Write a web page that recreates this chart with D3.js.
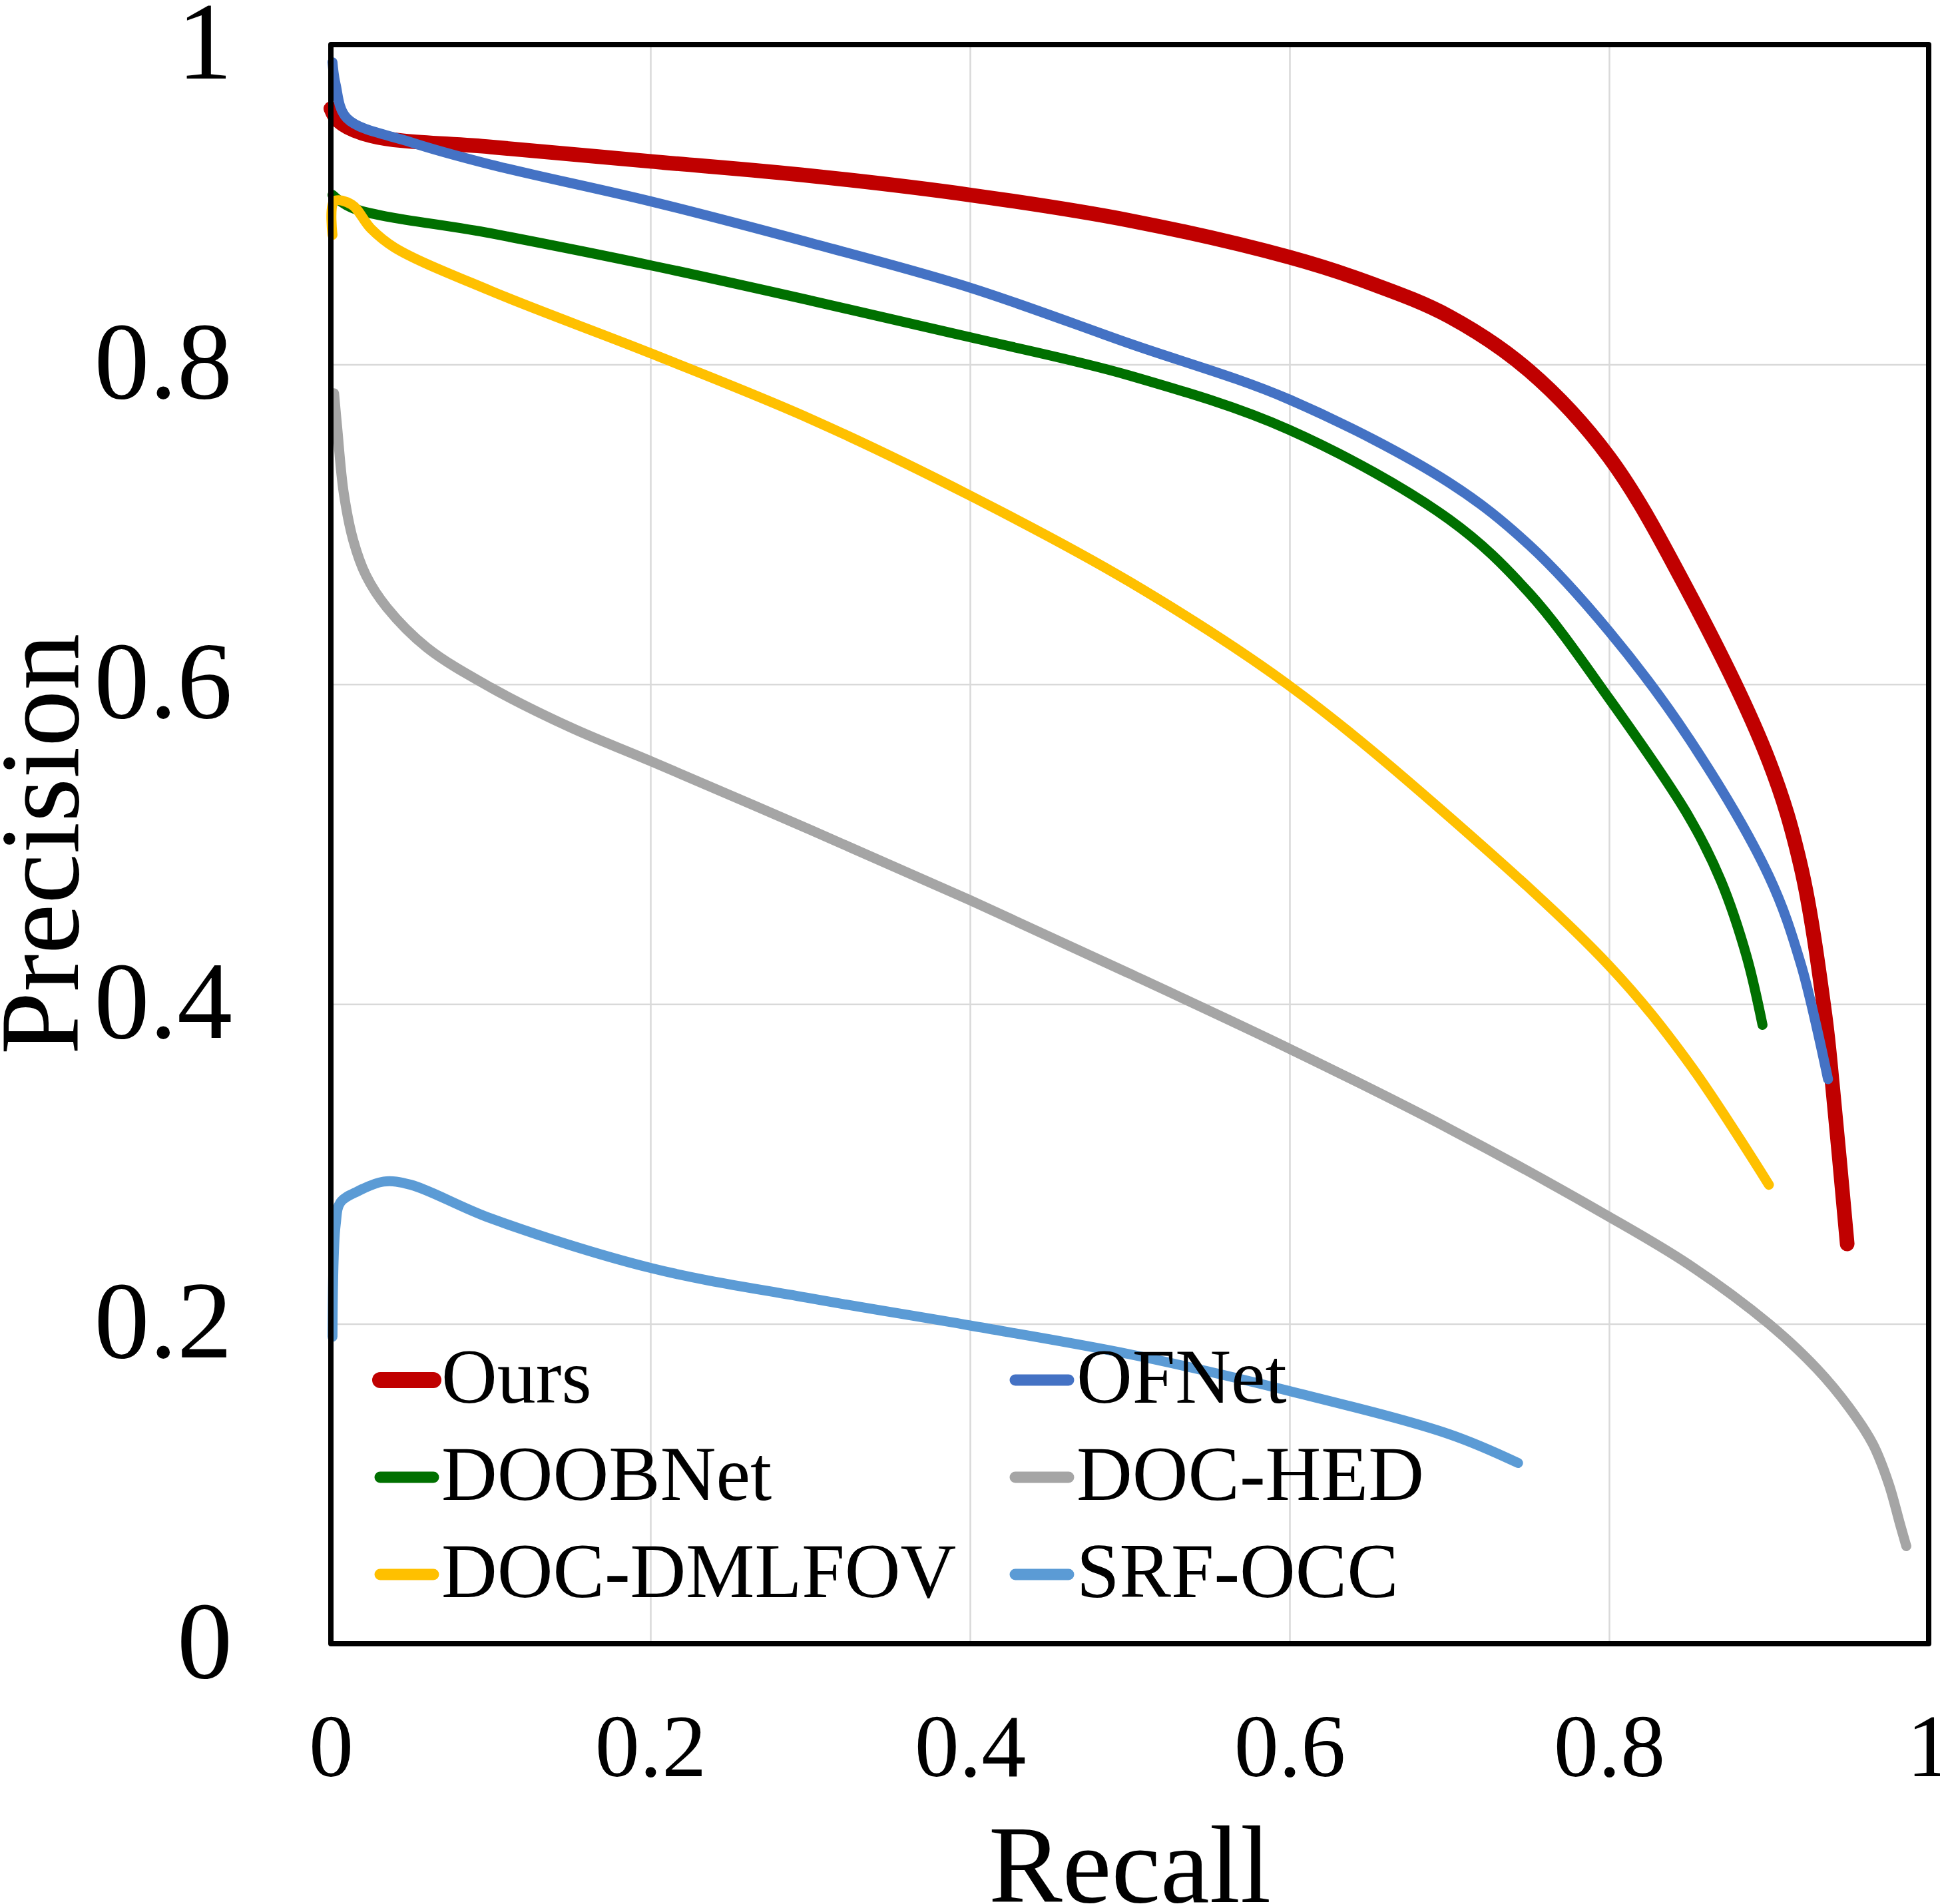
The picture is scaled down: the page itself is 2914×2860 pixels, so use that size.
<!DOCTYPE html>
<html>
<head>
<meta charset="utf-8">
<script src="https://cdn.jsdelivr.net/npm/d3@7"></script>
<style>
  body { margin: 0; background: #fff; }
  text { font-family: "Liberation Serif", "Times New Roman", serif; fill: #000; }
</style>
</head>
<body>
<div id="chart"></div>
<script>
// series names and colours
const seriesNames = ["Ours", "OFNet", "DOOBNet", "DOC-HED", "DOC-DMLFOV", "SRF-OCC"];
const seriesColors = ["#C00000", "#4472C4", "#007000", "#A5A5A5", "#FFC000", "#5B9BD5"];

// recall / precision points
const oursR = [0, 0.005, 0.025, 0.1, 0.2, 0.3, 0.4, 0.5, 0.6, 0.65, 0.7, 0.75, 0.8, 0.85, 0.9, 0.92, 0.935, 0.94, 0.949];
const oursP = [0.96, 0.952, 0.943, 0.936, 0.927, 0.918, 0.906, 0.890, 0.867, 0.851, 0.830, 0.796, 0.742, 0.657, 0.552, 0.486, 0.394, 0.347, 0.25];

const ofnetR = [0.001, 0.003, 0.01, 0.05, 0.1, 0.2, 0.3, 0.4, 0.5, 0.6, 0.7, 0.75, 0.8, 0.85, 0.9, 0.92, 0.937];
const ofnetP = [0.989, 0.975, 0.954, 0.939, 0.925, 0.902, 0.876, 0.848, 0.813, 0.778, 0.726, 0.687, 0.633, 0.566, 0.480, 0.425, 0.353];

const doobR = [0.001, 0.013, 0.1, 0.2, 0.3, 0.4, 0.5, 0.6, 0.7, 0.75, 0.8, 0.85, 0.87, 0.886, 0.896];
const doobP = [0.906, 0.898, 0.882, 0.862, 0.840, 0.817, 0.793, 0.759, 0.703, 0.657, 0.591, 0.517, 0.477, 0.430, 0.387];

const hedR = [0.002, 0.004, 0.008, 0.014, 0.022, 0.035, 0.06, 0.1, 0.15, 0.2, 0.3, 0.4, 0.5, 0.6, 0.7, 0.8, 0.85, 0.9, 0.93, 0.95, 0.965, 0.975, 0.982, 0.986];
const hedP = [0.782, 0.760, 0.720, 0.690, 0.668, 0.648, 0.623, 0.598, 0.573, 0.552, 0.509, 0.465, 0.419, 0.372, 0.322, 0.267, 0.237, 0.200, 0.172, 0.148, 0.125, 0.100, 0.075, 0.061];

const dmlR = [0.001, 0.002, 0.013, 0.025, 0.04, 0.1, 0.2, 0.3, 0.4, 0.5, 0.6, 0.7, 0.8, 0.85, 0.9];
const dmlP = [0.881, 0.902, 0.900, 0.885, 0.873, 0.846, 0.807, 0.766, 0.718, 0.664, 0.599, 0.517, 0.424, 0.363, 0.287];

const srfR = [0.001, 0.003, 0.006, 0.017, 0.033, 0.05, 0.1, 0.2, 0.3, 0.4, 0.5, 0.6, 0.7, 0.743];
const srfP = [0.192, 0.262, 0.276, 0.283, 0.289, 0.287, 0.266, 0.235, 0.216, 0.199, 0.181, 0.158, 0.131, 0.113];

const tickValues = [0, 0.2, 0.4, 0.6, 0.8, 1];
const tickLabels = ["0", "0.2", "0.4", "0.6", "0.8", "1"];

const series = [
  { name: "Ours", r: oursR, p: oursP, w: 22 },
  { name: "OFNet", r: ofnetR, p: ofnetP, w: 15 },
  { name: "DOOBNet", r: doobR, p: doobP, w: 15 },
  { name: "DOC-HED", r: hedR, p: hedP, w: 15 },
  { name: "DOC-DMLFOV", r: dmlR, p: dmlP, w: 15 },
  { name: "SRF-OCC", r: srfR, p: srfP, w: 15 }
];

const margin = { top: 67, right: 17, bottom: 391, left: 497 };
const width = 2400;
const height = 2402;

const svg = d3.select("#chart")
  .append("svg")
  .attr("width", 2914)
  .attr("height", 2860);

const g = svg.append("g")
  .attr("transform", `translate(${margin.left},${margin.top})`);

const x = d3.scaleLinear().domain([0, 1]).range([0, width]);
const y = d3.scaleLinear().domain([0, 1]).range([height, 0]);

const color = d3.scaleOrdinal().domain(seriesNames).range(seriesColors);

// gridlines
g.append("g")
  .attr("class", "grid-x")
  .attr("transform", `translate(0,${height})`)
  .call(d3.axisBottom(x).tickValues(tickValues.slice(1, -1)).tickSize(-height).tickFormat(""))
  .call(a => a.select(".domain").remove())
  .selectAll("line").attr("stroke", "#d9d9d9").attr("stroke-width", 2.5);

g.append("g")
  .attr("class", "grid-y")
  .call(d3.axisLeft(y).tickValues(tickValues.slice(1, -1)).tickSize(-width).tickFormat(""))
  .call(a => a.select(".domain").remove())
  .selectAll("line").attr("stroke", "#d9d9d9").attr("stroke-width", 2.5);

// x tick labels
const xAxis = g.append("g")
  .attr("transform", `translate(0,${height})`)
  .call(d3.axisBottom(x).tickValues(tickValues).tickSize(0).tickFormat((d, i) => tickLabels[i]));
xAxis.select(".domain").remove();
xAxis.selectAll("text")
  .attr("y", 199)
  .attr("dy", 0)
  .style("font-size", "134px")
  .style("font-family", '"Liberation Serif", "Times New Roman", serif')
  .attr("fill", "#000");

// y tick labels
const yAxis = g.append("g")
  .call(d3.axisLeft(y).tickValues(tickValues).tickSize(0).tickFormat((d, i) => tickLabels[i]));
yAxis.select(".domain").remove();
yAxis.selectAll("text")
  .attr("x", -148)
  .attr("dy", 50)
  .style("font-size", "166px")
  .style("font-family", '"Liberation Serif", "Times New Roman", serif')
  .attr("fill", "#000");

// curves
const line = d3.line()
  .x(d => x(d[0]))
  .y(d => y(d[1]))
  .curve(d3.curveCatmullRom.alpha(0.5));

series.forEach(s => {
  const pts = s.r.map((v, i) => [v, s.p[i]]);
  g.append("path")
    .datum(pts)
    .attr("fill", "none")
    .attr("stroke", color(s.name))
    .attr("stroke-width", s.w)
    .attr("stroke-linecap", "round")
    .attr("stroke-linejoin", "round")
    .attr("d", line);
});

// frame
g.append("rect")
  .attr("x", 0)
  .attr("y", 0)
  .attr("width", width)
  .attr("height", height)
  .attr("fill", "none")
  .attr("stroke", "#000")
  .attr("stroke-width", 8)
  .attr("stroke-linejoin", "round");

// legend, two columns
const legendOrder = ["Ours", "OFNet", "DOOBNet", "DOC-HED", "DOC-DMLFOV", "SRF-OCC"];
const legend = g.append("g");
legendOrder.forEach((name, i) => {
  const col = i % 2;
  const row = Math.floor(i / 2);
  const lx = 74 + col * 954;
  const base = 2040 + row * 146;
  legend.append("line")
    .attr("x1", lx)
    .attr("x2", lx + 80)
    .attr("y1", base - 34)
    .attr("y2", base - 34)
    .attr("stroke", color(name))
    .attr("stroke-width", name === "Ours" ? 24 : 17)
    .attr("stroke-linecap", "round");
  legend.append("text")
    .attr("x", lx + 92)
    .attr("y", base)
    .style("font-size", "116px")
    .text(name);
});

// axis titles
svg.append("text")
  .attr("x", margin.left + width / 2)
  .attr("y", 2857)
  .attr("text-anchor", "middle")
  .style("font-size", "166px")
  .text("Recall");

svg.append("text")
  .attr("transform", `translate(117,${margin.top + height / 2}) rotate(-90)`)
  .attr("text-anchor", "middle")
  .style("font-size", "170px")
  .text("Precision");
</script>
</body>
</html>
